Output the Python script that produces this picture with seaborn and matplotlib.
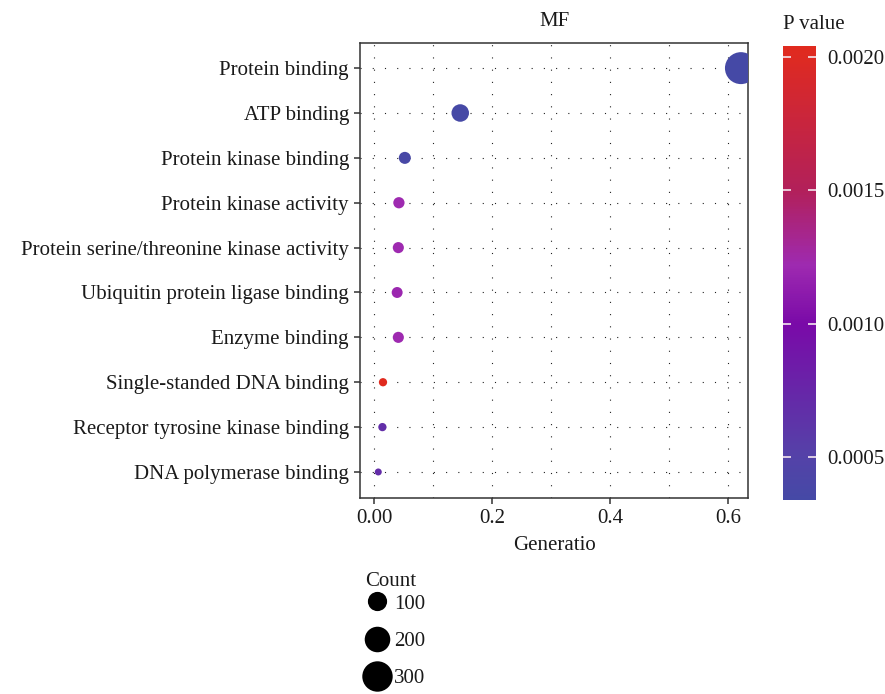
import numpy as np
import pandas as pd
import matplotlib
matplotlib.use("Agg")
import matplotlib.pyplot as plt
import seaborn as sns
from matplotlib.colors import LinearSegmentedColormap, Normalize
from matplotlib.lines import Line2D
from matplotlib.ticker import FixedLocator, MultipleLocator

# GO molecular function enrichment (top 10 terms)
terms = [
    "Protein binding",
    "ATP binding",
    "Protein kinase binding",
    "Protein kinase activity",
    "Protein serine/threonine kinase activity",
    "Ubiquitin protein ligase binding",
    "Enzyme binding",
    "Single-standed DNA binding",
    "Receptor tyrosine kinase binding",
    "DNA polymerase binding",
]
gene_ratio = [0.622, 0.146, 0.052, 0.042, 0.041, 0.039, 0.041, 0.015, 0.014, 0.007]
counts = [336, 79, 28, 23, 22, 21, 22, 8, 8, 4]
p_values = [0.00034, 0.00035, 0.00037, 0.00122, 0.00122, 0.00120, 0.00122, 0.00204, 0.00068, 0.00070]

x_ticks = [0.0, 0.2, 0.4, 0.6]
x_tick_labels = ["0.00", "0.2", "0.4", "0.6"]
cbar_ticks = [0.0005, 0.0010, 0.0015, 0.0020]
cbar_tick_labels = ["0.0005", "0.0010", "0.0015", "0.0020"]
legend_counts = [100, 200, 300]

df = pd.DataFrame({"Term": terms, "GeneRatio": gene_ratio,
                   "Count": counts, "PValue": p_values})

sns.set_theme(style="white")
plt.rcParams["font.family"] = ["Liberation Serif", "DejaVu Serif"]
FS = 15
TXT = "#1a1a1a"

# blue -> purple -> red gradient for p values
p_min, p_max = min(p_values), max(p_values)
stops = [(0.000337, "#4549A6"), (0.0005, "#5442A8"), (0.0010, "#7A0AA8"),
         (0.00122, "#9E2AB0"), (0.0015, "#B2205A"), (0.0020, "#DE2A22")]
span = p_max - p_min
cmap = LinearSegmentedColormap.from_list(
    "pgrad",
    [(min(max((p - p_min) / span, 0), 1), c) for p, c in stops] + [(1.0, "#E02A1E")],
)
norm = Normalize(vmin=p_min, vmax=p_max)

fig = plt.figure(figsize=(8.85, 6.94), dpi=100)
ax = fig.add_axes([360 / 885, 1 - 498 / 694, 388 / 885, 455 / 694])


# marker diameter (pt) grows with the square root of the gene count
def count_diameter(c):
    return 2.84 + 1.10 * np.sqrt(c)


size_map = {c: count_diameter(c) ** 2 for c in sorted(set(counts))}

sns.scatterplot(
    data=df, x="GeneRatio", y="Term", size="Count", sizes=size_map,
    hue="PValue", hue_norm=norm, palette=cmap,
    linewidth=0, legend=False, ax=ax, zorder=3,
)

ax.set_xlim(-0.024, 0.634)
ax.set_ylim(len(terms) - 1 + 0.58, -0.56)
ax.xaxis.set_major_locator(FixedLocator(x_ticks))
ax.set_xticklabels(x_tick_labels)
ax.xaxis.set_minor_locator(MultipleLocator(0.1))

grid_kw = dict(color="#222222", linewidth=0.8, linestyle=(0, (1, 10)))
ax.grid(True, which="major", axis="both", **grid_kw)
ax.grid(True, which="minor", axis="x", **grid_kw)
ax.set_axisbelow(True)

for sp in ax.spines.values():
    sp.set_color("#333333")
    sp.set_linewidth(1.1)

ax.tick_params(axis="both", which="major", direction="out", length=4,
               width=1.1, color="#333333", labelsize=FS, labelcolor=TXT,
               bottom=True, left=True, pad=4)
ax.tick_params(axis="x", which="minor", bottom=False)
ax.set_xlabel("Generatio", fontsize=FS, color=TXT, labelpad=6)
ax.set_ylabel("")
ax.set_title("MF", fontsize=FS, color=TXT, pad=12)

# colour bar
cax = fig.add_axes([783 / 885, 1 - 500 / 694, 33 / 885, 454 / 694])
sm = plt.cm.ScalarMappable(norm=norm, cmap=cmap)
cbar = fig.colorbar(sm, cax=cax)
cbar.outline.set_visible(False)
cbar.set_ticks(cbar_ticks)
cbar.set_ticklabels(cbar_tick_labels)
cax.set_axisbelow(False)
cax.tick_params(left=True, right=True, direction="in", length=6, width=1.2,
                color="#f4e6ee", labelleft=False, labelright=True,
                labelsize=FS, labelcolor=TXT, pad=8)
cax.set_title("P value", loc="left", fontsize=FS, color=TXT, pad=12)

# size legend
fig.text(365 / 885, 1 - 581 / 694, "Count", fontsize=FS, color=TXT,
         ha="left", va="center")
handles = [Line2D([], [], linestyle="", marker="o", color="black",
                  markeredgewidth=0, markersize=count_diameter(c))
           for c in legend_counts]
leg = fig.legend(handles, [str(c) for c in legend_counts],
                 loc="upper left", bbox_to_anchor=(362 / 885, 1 - 592 / 694),
                 frameon=False, fontsize=FS,
                 labelspacing=0.85, handletextpad=0.25, handlelength=1.2,
                 borderpad=0.1, borderaxespad=0)
for t in leg.get_texts():
    t.set_color(TXT)

fig.savefig("out.png", dpi=100)
